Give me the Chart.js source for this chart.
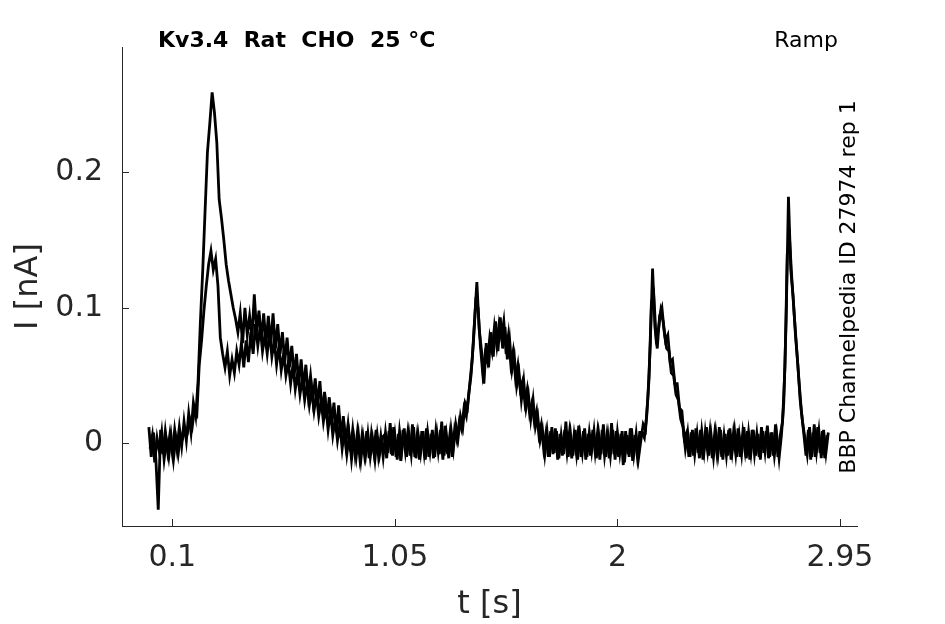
<!DOCTYPE html>
<html>
<head>
<meta charset="utf-8">
<title>Kv3.4 Rat CHO 25 °C - Ramp</title>
<script src="https://cdn.jsdelivr.net/npm/chart.js@4/dist/chart.umd.min.js"></script>
<style>
    html, body { margin: 0; padding: 0; background: #fff; }
    canvas { display: block; }
</style>
</head>
<body>
<canvas id="traceChart" width="945" height="624"></canvas>
<script>
// sample clock of the two sweeps (sweep 2 is sampled half a step later)
const dt = 0.01;
const tStartA = 0;
const tStartB = 0.005;

// sweep 1, current in nA, one row per 0.1 s
const traceA = [
    0.012, -0.010, 0.008, -0.012, -0.049, 0.010, -0.008, 0.009, -0.006, 0.007,
    -0.007, 0.010, -0.004, 0.012, -0.002, 0.016, 0.002, 0.022, 0.008, 0.030,
    0.020, 0.046, 0.090, 0.128, 0.172, 0.215, 0.236, 0.259, 0.244, 0.222,
    0.180, 0.166, 0.150, 0.132, 0.120, 0.110, 0.100, 0.092, 0.082, 0.096,
    0.074, 0.100, 0.080, 0.094, 0.078, 0.110, 0.082, 0.098, 0.076, 0.096,
    0.074, 0.094, 0.072, 0.096, 0.070, 0.088, 0.066, 0.082, 0.060, 0.078,
    0.056, 0.072, 0.050, 0.066, 0.044, 0.062, 0.040, 0.058, 0.036, 0.050,
    0.032, 0.048, 0.028, 0.046, 0.022, 0.038, 0.018, 0.034, 0.014, 0.030,
    0.008, 0.028, 0.004, 0.020, 0.000, 0.014, -0.006, 0.010, -0.008, 0.008,
    -0.010, 0.006, -0.008, 0.009, -0.011, 0.007, -0.006, 0.010, -0.009, 0.005,
    -0.010, 0.008, -0.007, 0.015, -0.009, 0.006, -0.012, 0.009, -0.005, 0.011,
    -0.010, 0.007, -0.008, 0.012, -0.011, 0.006, -0.007, 0.009, -0.012, 0.008,
    -0.006, 0.010, -0.010, 0.007, -0.008, 0.016, -0.009, 0.006, -0.011, 0.010,
    -0.004, 0.014, 0.004, 0.020, 0.012, 0.030, 0.026, 0.044, 0.062, 0.090,
    0.119, 0.084, 0.068, 0.044, 0.074, 0.056, 0.082, 0.064, 0.090, 0.068,
    0.093, 0.070, 0.086, 0.062, 0.076, 0.054, 0.064, 0.042, 0.052, 0.032,
    0.046, 0.026, 0.036, 0.018, 0.032, 0.012, 0.020, 0.002, 0.010, -0.008,
    0.008, -0.010, 0.012, -0.007, 0.009, -0.011, 0.006, -0.008, 0.016, -0.010,
    0.007, -0.009, 0.010, -0.012, 0.006, -0.007, 0.011, -0.010, 0.008, -0.006,
    0.009, -0.011, 0.007, -0.008, 0.014, -0.010, 0.006, -0.009, 0.010, -0.012,
    0.008, -0.007, 0.009, -0.014, 0.006, -0.010, 0.011, -0.008, 0.007, -0.011,
    0.002, 0.014, 0.010, 0.034, 0.072, 0.129, 0.086, 0.070, 0.094, 0.100,
    0.082, 0.070, 0.068, 0.052, 0.050, 0.036, 0.032, 0.018, 0.012, -0.004,
    0.008, -0.010, 0.010, -0.008, 0.007, -0.011, 0.009, -0.006, 0.012, -0.009,
    0.006, -0.010, 0.008, -0.007, 0.010, -0.012, 0.007, -0.009, 0.011, -0.006,
    0.009, -0.010, 0.006, -0.008, 0.012, -0.011, 0.008, -0.007, 0.010, -0.009,
    0.007, -0.012, 0.009, -0.006, 0.013, -0.010, 0.008, -0.009, 0.006, -0.011,
    0.006, 0.030, 0.090, 0.182, 0.128, 0.108, 0.080, 0.058, 0.032, 0.016,
    0.004, -0.008, 0.012, -0.010, 0.014, -0.006, 0.009, -0.011, 0.010, -0.007,
    0.008
];

// sweep 2, current in nA, one row per 0.1 s
const traceB = [
    -0.004, 0.006, -0.014, 0.004, -0.006, 0.008, -0.012, 0.002, -0.010, 0.005,
    -0.012, 0.004, -0.008, 0.006, 0.004, 0.010, 0.008, 0.018, 0.012, 0.026,
    0.022, 0.058, 0.076, 0.098, 0.116, 0.132, 0.142, 0.128, 0.136, 0.116,
    0.078, 0.066, 0.056, 0.068, 0.050, 0.062, 0.052, 0.068, 0.058, 0.074,
    0.056, 0.076, 0.060, 0.082, 0.066, 0.088, 0.072, 0.086, 0.068, 0.080,
    0.066, 0.082, 0.064, 0.076, 0.058, 0.072, 0.054, 0.066, 0.050, 0.060,
    0.044, 0.058, 0.040, 0.052, 0.036, 0.048, 0.032, 0.044, 0.028, 0.040,
    0.024, 0.036, 0.020, 0.032, 0.016, 0.028, 0.010, 0.024, 0.006, 0.018,
    0.002, 0.014, -0.004, 0.010, -0.008, 0.006, -0.012, 0.004, -0.010, 0.006,
    -0.012, 0.004, -0.009, 0.007, -0.010, 0.003, -0.012, 0.006, -0.008, 0.004,
    0.006, -0.011, 0.009, -0.008, 0.012, -0.010, 0.007, -0.013, 0.010, -0.006,
    0.008, -0.009, 0.014, -0.010, 0.006, -0.012, 0.009, -0.007, 0.011, -0.010,
    0.007, -0.011, 0.009, -0.006, 0.010, -0.012, 0.013, -0.008, 0.007, -0.010,
    0.010, 0.002, 0.016, 0.010, 0.026, 0.020, 0.036, 0.050, 0.074, 0.104,
    0.100, 0.072, 0.052, 0.066, 0.060, 0.078, 0.068, 0.086, 0.072, 0.088,
    0.078, 0.090, 0.066, 0.080, 0.058, 0.068, 0.048, 0.058, 0.040, 0.046,
    0.030, 0.040, 0.022, 0.030, 0.016, 0.024, 0.006, 0.014, -0.004, 0.008,
    -0.010, 0.009, -0.008, 0.011, -0.012, 0.007, -0.009, 0.010, -0.007, 0.008,
    -0.011, 0.006, -0.008, 0.013, -0.010, 0.009, -0.012, 0.007, -0.009, 0.010,
    -0.007, 0.008, -0.012, 0.010, -0.009, 0.006, -0.011, 0.015, -0.008, 0.009,
    -0.010, 0.007, -0.016, 0.009, -0.008, 0.011, -0.013, 0.006, -0.010, 0.008,
    0.008, 0.004, 0.020, 0.048, 0.104, 0.110, 0.078, 0.084, 0.098, 0.090,
    0.076, 0.080, 0.060, 0.062, 0.044, 0.044, 0.026, 0.024, 0.004, 0.008,
    -0.010, 0.008, -0.009, 0.011, -0.007, 0.010, -0.012, 0.008, -0.006, 0.009,
    -0.011, 0.007, -0.008, 0.012, -0.010, 0.006, -0.009, 0.010, -0.012, 0.007,
    -0.008, 0.011, -0.010, 0.008, -0.006, 0.009, -0.012, 0.010, -0.008, 0.007,
    -0.010, 0.012, -0.007, 0.009, -0.011, 0.008, -0.009, 0.014, -0.010, 0.006,
    0.016, 0.056, 0.140, 0.150, 0.120, 0.094, 0.070, 0.046, 0.024, 0.008,
    -0.009, 0.010, -0.012, 0.008, -0.010, 0.012, -0.007, 0.009, -0.011, 0.006
];

// axis ticks
const xTicks = [0.1, 1.05, 2, 2.95];
const xTickLabels = ['0.1', '1.05', '2', '2.95'];
const yTicks = [0, 0.1, 0.2];
const yTickLabels = ['0', '0.1', '0.2'];

const axisColor = '#262626';

function toPoints(values, t0) {
    return values.map((v, i) => ({ x: t0 + i * dt, y: v }));
}

// inward tick marks, like the original figure
const inwardTicks = {
    id: 'inwardTicks',
    afterDraw(chart) {
        const ctx = chart.ctx;
        const xs = chart.scales.x;
        const ys = chart.scales.y;
        const area = chart.chartArea;
        ctx.save();
        ctx.strokeStyle = axisColor;
        ctx.lineWidth = 1;
        ctx.beginPath();
        xTicks.forEach(v => {
            const px = Math.round(xs.getPixelForValue(v)) + 0.5;
            ctx.moveTo(px, area.bottom);
            ctx.lineTo(px, area.bottom - 7);
        });
        yTicks.forEach(v => {
            const py = Math.round(ys.getPixelForValue(v)) + 0.5;
            ctx.moveTo(area.left, py);
            ctx.lineTo(area.left + 7, py);
        });
        ctx.stroke();
        ctx.restore();
    }
};

// header texts and the vertical source note
const labels = {
    id: 'labels',
    afterDraw(chart) {
        const ctx = chart.ctx;
        ctx.save();
        ctx.fillStyle = '#000';
        ctx.textBaseline = 'alphabetic';
        ctx.font = 'bold 22px "DejaVu Sans"';
        ctx.textAlign = 'left';
        ctx.fillText('Kv3.4  Rat  CHO  25 °C', 158, 47);
        ctx.font = '22px "DejaVu Sans"';
        ctx.textAlign = 'right';
        ctx.fillText('Ramp', 838, 47);
        ctx.translate(855, 287);
        ctx.rotate(-Math.PI / 2);
        ctx.textAlign = 'center';
        ctx.fillText('BBP Channelpedia ID 27974 rep 1', 0, 0);
        ctx.restore();
    }
};

const ctx = document.getElementById('traceChart').getContext('2d');
const traceChart = new Chart(ctx, {
    type: 'line',
    data: {
        datasets: [
            { data: toPoints(traceB, tStartB), borderColor: '#000', borderWidth: 2.8 },
            { data: toPoints(traceA, tStartA), borderColor: '#000', borderWidth: 2.8 }
        ]
    },
    options: {
        responsive: false,
        animation: false,
        devicePixelRatio: 1,
        parsing: false,
        elements: { point: { radius: 0 }, line: { tension: 0, borderJoinStyle: 'miter' } },
        layout: { padding: { top: 47, right: 88, left: 0, bottom: 0 } },
        plugins: { legend: { display: false }, tooltip: { enabled: false } },
        scales: {
            x: {
                type: 'linear',
                min: -0.1147,
                max: 3.0226,
                afterFit: scale => { scale.height = 98; },
                afterBuildTicks: scale => { scale.ticks = xTicks.map(v => ({ value: v })); },
                ticks: {
                    autoSkip: false,
                    maxRotation: 0,
                    padding: 14,
                    color: axisColor,
                    font: { family: 'DejaVu Sans', size: 30 },
                    callback: (v) => xTickLabels[xTicks.indexOf(v)]
                },
                grid: { drawOnChartArea: false, drawTicks: false },
                border: { color: axisColor, width: 1 },
                title: {
                    display: true,
                    text: 't [s]',
                    color: axisColor,
                    font: { family: 'DejaVu Sans', size: 32 },
                    padding: { top: 0, bottom: 0 }
                }
            },
            y: {
                type: 'linear',
                min: -0.061,
                max: 0.2925,
                afterFit: scale => { scale.width = 122; },
                afterBuildTicks: scale => { scale.ticks = yTicks.map(v => ({ value: v })); },
                ticks: {
                    padding: 19,
                    color: axisColor,
                    font: { family: 'DejaVu Sans', size: 30 },
                    callback: (v) => yTickLabels[yTicks.indexOf(v)]
                },
                grid: { drawOnChartArea: false, drawTicks: false },
                border: { color: axisColor, width: 1 },
                title: {
                    display: true,
                    text: 'I [nA]',
                    color: axisColor,
                    font: { family: 'DejaVu Sans', size: 32 },
                    padding: { top: 9, bottom: 0 }
                }
            }
        }
    },
    plugins: [inwardTicks, labels]
});
</script>
</body>
</html>
